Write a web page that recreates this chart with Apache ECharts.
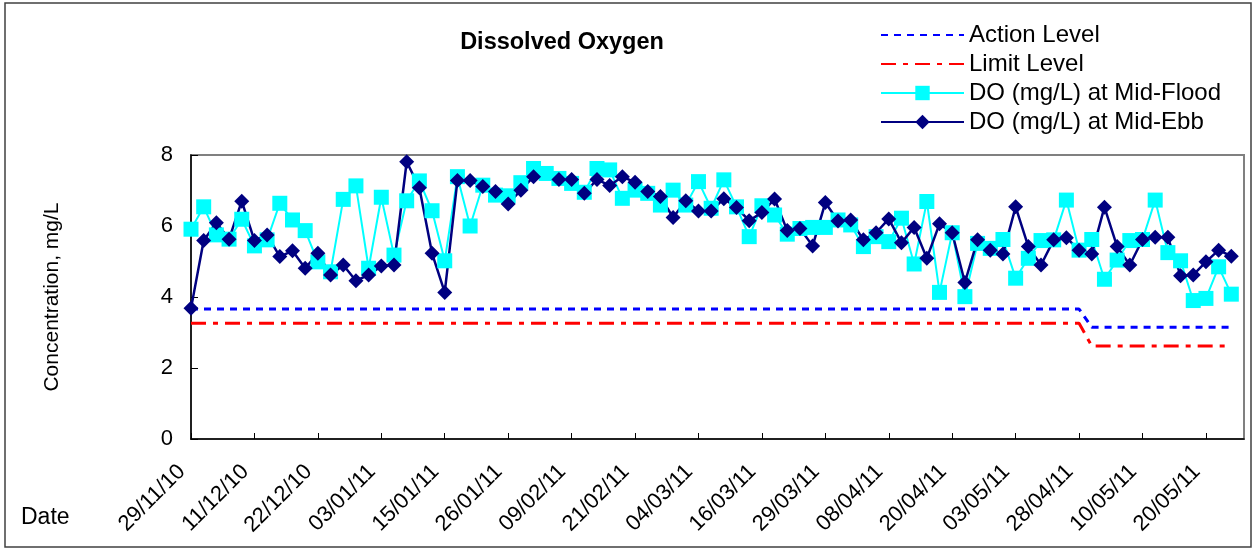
<!DOCTYPE html>
<html>
<head>
<meta charset="utf-8">
<title>Dissolved Oxygen</title>
<script src="https://cdn.jsdelivr.net/npm/echarts@6/dist/echarts.min.js"></script>
<style>
  html, body { margin: 0; padding: 0; background: #fff; }
  #chart { width: 1254px; height: 550px; }
</style>
</head>
<body>
<div id="chart"></div>
<script>
// tick labels, one every 5 sampling days
var tickLabels = ['29/11/10','11/12/10','22/12/10','03/01/11','15/01/11','26/01/11','09/02/11','21/02/11',
  '04/03/11','16/03/11','29/03/11','08/04/11','20/04/11','03/05/11','28/04/11','10/05/11','20/05/11'];

var midFlood = [5.91,6.54,5.75,5.63,6.19,5.44,5.61,6.64,6.17,5.87,
  4.99,4.71,6.75,7.13,4.81,6.81,5.18,6.71,7.27,6.43,
  5.02,7.39,6.00,7.15,6.87,6.85,7.22,7.62,7.48,7.34,
  7.20,6.95,7.62,7.58,6.78,7.01,6.92,6.59,7.01,6.59,
  7.25,6.50,7.30,6.54,5.70,6.57,6.31,5.77,5.93,5.96,
  5.96,6.17,6.03,5.42,5.70,5.56,6.22,4.93,6.69,4.13,
  5.81,4.01,5.51,5.37,5.62,4.53,5.09,5.59,5.61,6.73,
  5.32,5.62,4.50,5.04,5.59,5.62,6.73,5.25,5.02,3.90,
  3.96,4.85,4.08];

var midEbb = [3.68,5.59,6.09,5.63,6.70,5.59,5.75,5.14,5.30,4.81,
  5.23,4.62,4.90,4.46,4.62,4.87,4.90,7.81,7.08,5.23,
  4.13,7.28,7.28,7.11,6.97,6.62,7.01,7.39,null,7.31,
  7.31,6.92,7.31,7.14,7.39,7.23,6.97,6.83,6.24,6.71,
  6.42,6.42,6.77,6.52,6.15,6.38,6.76,5.87,5.93,5.44,
  6.66,6.14,6.17,5.61,5.81,6.20,5.53,5.96,5.09,6.06,
  5.81,4.41,5.61,5.32,5.21,6.54,5.42,4.90,5.61,5.67,
  5.32,5.21,6.53,5.42,4.90,5.62,5.68,5.68,4.60,4.62,
  4.99,5.32,5.15];

// compliance levels (first period, second period)
var actionLevel = [3.66, 3.15];
var limitLevel = [3.26, 2.62];
var levelChangeIndex = 71;
var totalSlots = 84;

var categories = [];
var actionData = [];
var limitData = [];
for (var i = 0; i < totalSlots; i++) {
  categories.push(String(i));
  if (i < midEbb.length) {
    actionData.push(i < levelChangeIndex ? actionLevel[0] : actionLevel[1]);
    limitData.push(i < levelChangeIndex ? limitLevel[0] : limitLevel[1]);
  } else {
    actionData.push(null);
    limitData.push(null);
  }
}

var font = 'Liberation Sans, Arial, sans-serif';
var chart = echarts.init(document.getElementById('chart'));

var option = {
  backgroundColor: '#ffffff',
  animation: false,
  textStyle: { fontFamily: font, color: '#000' },
  title: {
    text: 'Dissolved Oxygen',
    left: 557,
    textAlign: 'center',
    top: 26,
    textStyle: { fontFamily: font, fontSize: 23.5, fontWeight: 'bold', color: '#000' }
  },
  legend: {
    orient: 'vertical',
    left: 880,
    top: 23,
    padding: 0,
    itemWidth: 83,
    itemHeight: 18,
    itemGap: 5,
    textStyle: { fontFamily: font, fontSize: 24, color: '#000', lineHeight: 24 },
    data: ['Action Level', 'Limit Level', 'DO (mg/L) at Mid-Flood', 'DO (mg/L) at Mid-Ebb']
  },
  grid: {
    left: 191,
    right: 10,
    top: 155,
    bottom: 111,
    show: true,
    borderColor: '#808080',
    borderWidth: 2,
    backgroundColor: 'transparent'
  },
  xAxis: {
    type: 'category',
    boundaryGap: false,
    data: categories,
    axisLine: { lineStyle: { color: '#000', width: 1.5 } },
    axisTick: { inside: true, length: 6, interval: 4, lineStyle: { color: '#000' } },
    axisLabel: {
      interval: 4,
      rotate: 45,
      margin: 20,
      padding: [0, 13, 0, 0],
      fontFamily: font,
      fontSize: 22,
      color: '#000',
      formatter: function (value, index) {
        return index % 5 === 0 ? (tickLabels[index / 5] || '') : '';
      }
    },
    splitLine: { show: false }
  },
  yAxis: {
    type: 'value',
    min: 0,
    max: 8,
    interval: 2,
    name: 'Concentration, mg/L',
    nameLocation: 'middle',
    nameGap: 128,
    nameTextStyle: { fontFamily: font, fontSize: 21, color: '#000' },
    axisLine: { show: true, lineStyle: { color: '#000', width: 1.5 } },
    axisTick: { show: true, inside: true, length: 7, lineStyle: { color: '#000' } },
    axisLabel: { margin: 18, fontFamily: font, fontSize: 22, color: '#000' },
    splitLine: { show: false }
  },
  graphic: [
    {
      type: 'rect',
      shape: { x: 5, y: 3, width: 1246, height: 544 },
      style: { fill: 'none', stroke: '#404040', lineWidth: 1.5 },
      silent: true
    },
    {
      type: 'text',
      left: 21,
      top: 506,
      style: { text: 'Date', fontFamily: font, fontSize: 23, fill: '#000' }
    }
  ],
  series: [
    {
      name: 'Action Level',
      type: 'line',
      data: actionData,
      symbol: 'none',
      itemStyle: { color: 'rgba(0,0,0,0)' },
      lineStyle: { color: '#0000ff', width: 3, type: [7, 6] }
    },
    {
      name: 'Limit Level',
      type: 'line',
      data: limitData,
      symbol: 'none',
      itemStyle: { color: 'rgba(0,0,0,0)' },
      lineStyle: { color: '#ff0000', width: 3, type: [15, 7, 5, 7] }
    },
    {
      name: 'DO (mg/L) at Mid-Flood',
      type: 'line',
      data: midFlood,
      symbol: 'rect',
      symbolSize: 15,
      showAllSymbol: true,
      itemStyle: { color: '#00ffff' },
      lineStyle: { color: '#00ffff', width: 2 }
    },
    {
      name: 'DO (mg/L) at Mid-Ebb',
      type: 'line',
      data: midEbb,
      connectNulls: true,
      symbol: 'diamond',
      symbolSize: 15,
      showAllSymbol: true,
      itemStyle: { color: '#000080' },
      lineStyle: { color: '#000080', width: 2.5 }
    }
  ]
};

chart.setOption(option);
</script>
</body>
</html>
